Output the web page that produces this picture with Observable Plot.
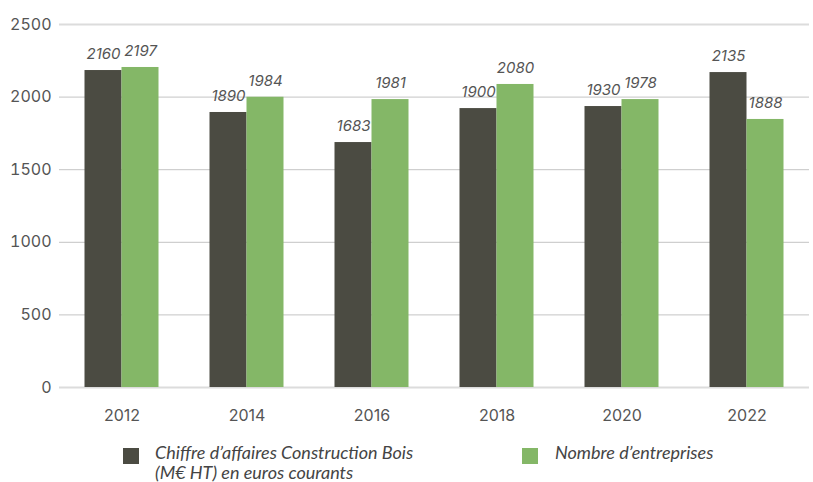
<!DOCTYPE html>
<html>
<head>
<meta charset="utf-8">
<script src="https://cdn.jsdelivr.net/npm/d3@7"></script>
<script src="https://cdn.jsdelivr.net/npm/@observablehq/plot@0.6"></script>
<style>
  body { margin: 0; background: #fff; width: 813px; height: 482px; position: relative; overflow: hidden; }
  #chart { position: absolute; left: 0; top: 0; }
  .leg { position: absolute; font-family: "Lato", sans-serif; font-style: italic; font-size: 18px; line-height: 20px; color: #444; white-space: nowrap; }
  .sw { position: absolute; width: 16px; height: 16px; }
</style>
</head>
<body>
<div id="chart"></div>
<div class="sw" style="left:123px;top:448px;background:#4b4b42"></div>
<div class="leg" style="left:155px;top:442px;">Chiffre d’affaires Construction Bois<br>(M€ HT) en euros courants</div>
<div class="sw" style="left:522px;top:448px;background:#84b767"></div>
<div class="leg" style="left:555px;top:442px;">Nombre d’entreprises</div>
<script>
const years = ["2012", "2014", "2016", "2018", "2020", "2022"];
const seriesNames = ["Chiffre d’affaires Construction Bois (M€ HT) en euros courants", "Nombre d’entreprises"];
const caValues = [2183, 1894, 1687, 1921, 1935, 2169];
const caLabels = ["2160", "1890", "1683", "1900", "1930", "2135"];
const entValues = [2204, 1999, 1983, 2087, 1983, 1846];
const entLabels = ["2197", "1984", "1981", "2080", "1978", "1888"];
const yTicks = [0, 500, 1000, 1500, 2000, 2500];
const colors = ["#4b4b42", "#84b767"];

const data = [];
years.forEach((yr, i) => {
  data.push({year: yr, series: seriesNames[0], value: caValues[i], label: caLabels[i]});
  data.push({year: yr, series: seriesNames[1], value: entValues[i], label: entLabels[i]});
});

const chart = Plot.plot({
  width: 813,
  height: 430,
  marginTop: 24,
  marginBottom: 43,
  marginLeft: 58.5,
  marginRight: 4.5,
  style: {fontFamily: "Inter, 'Noto Sans', sans-serif", background: "#fff"},
  fx: {domain: years, paddingInner: 0, paddingOuter: 0, label: null},
  x: {domain: seriesNames, paddingInner: 0, paddingOuter: 0.667, axis: null},
  y: {domain: [0, 2500], label: null},
  color: {domain: seriesNames, range: colors},
  marks: [
    Plot.ruleY([500, 1000, 1500, 2000], {stroke: "#c4c4c4", strokeWidth: 1}),
    Plot.ruleY([0, 2500], {stroke: "#dcdcdc", strokeWidth: 2}),
    Plot.barY(data, {fx: "year", x: "series", y: "value", fill: "series"}),
    Plot.text(data, {fx: "year", x: "series", y: "value", text: "label", dy: -16,
      fontStyle: "italic", fontSize: 15, fill: "#555"}),
    Plot.axisY({ticks: yTicks, tickFormat: d => String(d), tickSize: 0, tickPadding: 8, fontSize: 16, color: "#555", label: null}),
    Plot.axisFx({anchor: "bottom", tickSize: 0, tickPadding: 22, fontSize: 16, color: "#555", label: null})
  ]
});
document.getElementById("chart").appendChild(chart);
</script>
</body>
</html>
